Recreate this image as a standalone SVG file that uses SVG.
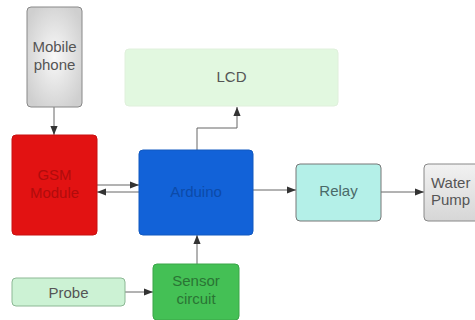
<svg xmlns="http://www.w3.org/2000/svg" width="475" height="320" viewBox="0 0 475 320">
<defs>
<radialGradient id="gray" cx="0.5" cy="0.5" r="0.6">
<stop offset="0" stop-color="#f8f8f8"/><stop offset="1" stop-color="#cfcfcf"/>
</radialGradient>
<linearGradient id="gray2" x1="0" y1="0" x2="0" y2="1">
<stop offset="0" stop-color="#f2f2f2"/><stop offset="1" stop-color="#d6d6d6"/>
</linearGradient>
<marker id="ah" viewBox="0 0 10 10" refX="10" refY="5" markerWidth="9" markerHeight="9" markerUnits="userSpaceOnUse" orient="auto">
<path d="M0,1 L10,5 L0,9 z" fill="#333"/>
</marker>
</defs>
<style>
text{font-family:"Liberation Sans",Arial,sans-serif;font-size:15px;text-anchor:middle}
.c{fill:none;stroke:#666;stroke-width:1;marker-end:url(#ah)}
</style>
<rect width="475" height="320" fill="#fff"/>
<g id="connectors">
<path class="c" d="M54,107 V135"/>
<path class="c" d="M97,185 H139"/>
<path class="c" d="M139,192 H97"/>
<path class="c" d="M197,150 V128 H237 V107"/>
<path class="c" d="M253,190 H296"/>
<path class="c" d="M381,192 H424"/>
<path class="c" d="M197,264 V235"/>
<path class="c" d="M125,292 H153"/>
</g>
<g id="mobile">
<rect x="27" y="7" width="55" height="100" rx="4" fill="url(#gray)" stroke="#888"/>
<text x="54.5" y="52" fill="#555">Mobile</text>
<text x="54.5" y="70" fill="#555">phone</text>
</g>
<g id="gsm">
<rect x="12" y="135" width="85" height="100" rx="4" fill="#e21212" stroke="#c81010"/>
<text x="54.5" y="180" fill="#b00c0c">GSM</text>
<text x="54.5" y="198" fill="#b00c0c">Module</text>
</g>
<g id="arduino">
<rect x="139" y="150" width="114" height="85" rx="4" fill="#1262d8" stroke="#1058c0"/>
<text x="196" y="197" fill="#0c4aa8">Arduino</text>
</g>
<g id="lcd">
<rect x="125" y="49" width="213" height="57" rx="4" fill="#e2f8e0" stroke="#e0f0dc"/>
<text x="231.5" y="82" fill="#555">LCD</text>
</g>
<g id="relay">
<rect x="296" y="164" width="85" height="57" rx="4" fill="#b4f0e8" stroke="#777"/>
<text x="338.5" y="196" fill="#4a6a68">Relay</text>
</g>
<g id="pump">
<rect x="424" y="164" width="60" height="57" rx="4" fill="url(#gray2)" stroke="#888"/>
<text x="431" y="188" fill="#555" style="text-anchor:start">Water</text>
<text x="431" y="205" fill="#555" style="text-anchor:start">Pump</text>
</g>
<g id="sensor">
<rect x="153" y="264" width="86" height="56" rx="4" fill="#44c055" stroke="#3aa648"/>
<text x="196" y="286" fill="#2a7434">Sensor</text>
<text x="196" y="304" fill="#2a7434">circuit</text>
</g>
<g id="probe">
<rect x="12" y="278" width="113" height="28" rx="4" fill="#ccf2d4" stroke="#8cb894"/>
<text x="68.5" y="298" fill="#555">Probe</text>
</g>
</svg>
